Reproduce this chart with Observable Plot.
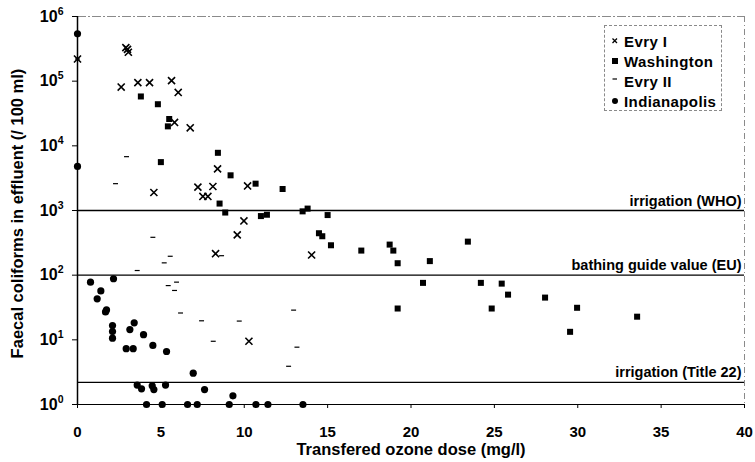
<!DOCTYPE html>
<html>
<head>
<meta charset="utf-8">
<script src="https://cdn.jsdelivr.net/npm/d3@7"></script>
<script src="https://cdn.jsdelivr.net/npm/@observablehq/plot@0.6"></script>
<style>
  html, body { margin: 0; padding: 0; background: #fff; }
  #wrap { position: relative; width: 755px; height: 462px; font-family: "Liberation Sans", Arial, sans-serif; }
  #legend { position: absolute; left: 604px; top: 25px; width: 118px; height: 86px;
            border: 1px dashed #8a8a8a; box-sizing: border-box; background: #fff; }
  .li { position: absolute; left: 0; font-weight: bold; font-size: 15px; letter-spacing: 0.4px; color: #000; line-height: 16px; white-space: nowrap; }
  .li svg { position: absolute; left: 6px; top: 3px; }
  .li span { position: absolute; left: 19px; top: 0; }
</style>
</head>
<body>
<div id="wrap"></div>
<script>
// ---- data ----
const seriesNames = ["Evry I", "Washington", "Evry II", "Indianapolis"];

const evry1X = [0, 2.9, 3.05, 3.0, 2.62, 3.62, 4.32, 5.64, 6.04, 5.82, 6.76, 4.58, 8.40, 7.22, 7.52, 7.82, 8.12, 10.2, 9.98, 9.58, 8.28, 14.04, 10.28];
const evry1Y = [2.2e5, 3.3e5, 2.8e5, 3.1e5, 8.1e4, 9.5e4, 9.5e4, 1.02e5, 6.7e4, 2.3e4, 1.9e4, 1.9e3, 4.4e3, 2.3e3, 1.65e3, 1.65e3, 2.35e3, 2.4e3, 690, 420, 215, 205, 9.5];

const washX = [3.80, 4.82, 5.50, 5.42, 5.0, 8.42, 9.18, 8.52, 8.86, 10.68, 12.3, 11.0, 11.36, 13.5, 13.8, 15.0, 14.48, 14.68, 15.2, 17.02, 18.72, 18.94, 19.2, 21.13, 23.41, 19.2, 20.72, 24.19, 24.84, 25.44, 25.82, 28.04, 29.96, 29.54, 33.56];
const washY = [5.8e4, 4.4e4, 2.6e4, 2.0e4, 5.6e3, 7.8e3, 3.5e3, 1.28e3, 930, 2.6e3, 2.15e3, 820, 860, 970, 1.07e3, 850, 445, 400, 290, 240, 297, 240, 153, 165, 330, 30.5, 76, 76, 30.5, 74, 50, 45, 31.3, 13.3, 22.8];

const evry2X = [0, 2.94, 2.28, 4.52, 3.58, 5.20, 5.56, 5.44, 5.94, 5.82, 6.18, 7.44, 8.14, 9.70, 8.64, 12.96, 13.16, 12.66];
const evry2Y = [2.2e5, 6.8e3, 2.6e3, 385, 118, 155, 196, 69, 78, 58, 26, 19.7, 9.5, 19.5, 200, 28.8, 7.7, 3.9];

const indyX = [0, 0, 0.78, 1.18, 1.40, 1.68, 1.74, 2.16, 2.10, 2.10, 2.10, 3.40, 3.14, 3.96, 2.92, 3.34, 4.52, 5.34, 6.94, 3.58, 3.84, 4.48, 4.58, 5.28, 7.62, 9.32, 4.14, 5.08, 6.6, 7.18, 9.1, 10.7, 11.42, 13.52];
const indyY = [5.4e5, 4.8e3, 78, 43, 57, 27, 29, 88, 16.6, 13.4, 10.6, 18.3, 14.4, 12.0, 7.3, 7.3, 8.2, 6.6, 3.05, 2.0, 1.75, 1.95, 1.7, 2.0, 1.7, 1.36, 1, 1, 1, 1, 1, 1, 1, 1];

const thresholdValues = [1000, 100, 2.2];
const thresholdLabels = ["irrigation (WHO)", "bathing guide value (EU)", "irrigation (Title 22)"];

const xTicks = [0, 5, 10, 15, 20, 25, 30, 35, 40];
const yTicks = [1, 10, 100, 1000, 1e4, 1e5, 1e6];
const xDomain = [0, 40];
const yDomain = [1, 1e6];
const xTitle = "Transfered ozone dose (mg/l)";
const yTitle = "Faecal coliforms in effluent (/ 100 ml)";

// ---- build tables ----
const toRows = (xs, ys) => xs.map((x, i) => ({x, y: ys[i]}));
const evry1 = toRows(evry1X, evry1Y);
const wash = toRows(washX, washY);
const evry2 = toRows(evry2X, evry2Y);
const indy = toRows(indyX, indyY);
const thresholds = thresholdValues.map((v, i) => ({v, label: thresholdLabels[i]}));

const dash = { draw(ctx, size) { const r = Math.sqrt(size) / 2; ctx.moveTo(-r, 0); ctx.lineTo(r, 0); } };

const font = '"Liberation Sans", Arial, sans-serif';

const chart = Plot.plot({
  width: 755,
  height: 462,
  marginLeft: 77,
  marginRight: 11,
  marginTop: 16,
  marginBottom: 58,
  style: { fontFamily: font, fontWeight: "bold", fontSize: "15px", color: "#000", background: "#fff", overflow: "visible" },
  x: { domain: xDomain, type: "linear" },
  y: { domain: yDomain, type: "log" },
  marks: [
    Plot.ruleY([yDomain[1]], { stroke: "#8a8a8a", strokeWidth: 1, strokeDasharray: "9,2,2,2" }),
    Plot.ruleX([xDomain[1]], { stroke: "#8a8a8a", strokeWidth: 1, strokeDasharray: "6,3,1,3" }),
    Plot.ruleY(thresholds, { y: "v", stroke: "#000", strokeWidth: 1.4 }),
    Plot.ruleY([yDomain[0]], { stroke: "#000", strokeWidth: 1.2 }),
    Plot.ruleX([xDomain[0]], { stroke: "#000", strokeWidth: 1.5 }),
    Plot.axisX({ ticks: xTicks, tickSize: 4, tickPadding: 18, fontSize: 15, fontWeight: "bold", label: null, tickFormat: d => String(d) }),
    Plot.axisY({ ticks: yTicks, tickSize: 5, tickPadding: 9, fontSize: 16, fontWeight: "bold", label: null,
                 tickFormat: d => "10^" + Math.round(Math.log10(d)) }),
    Plot.text(thresholds, { y: "v", text: "label", frameAnchor: "right", textAnchor: "end", lineAnchor: "bottom",
                            dx: -3, dy: -5, fontSize: 14.5, fontWeight: "bold", fill: "#000" }),
    Plot.text([xTitle], { text: d => d, frameAnchor: "bottom", dy: 50, fontSize: 16.5, fontWeight: "bold", fill: "#000" }),
    Plot.text([yTitle], { text: d => d, frameAnchor: "left", textAnchor: "middle", rotate: -90, dx: -60, dy: 3, fontSize: 16.5, fontWeight: "bold", fill: "#000" }),
    Plot.dot(evry2, { x: "x", y: "y", symbol: dash, r: 2.8, fill: "none", stroke: "#000", strokeWidth: 1.2 }),
    Plot.dot(evry1, { x: "x", y: "y", symbol: "times", r: 3.3, fill: "none", stroke: "#000", strokeWidth: 1.6 }),
    Plot.dot(wash, { x: "x", y: "y", symbol: "square", r: 3.4, fill: "#000", stroke: "none" }),
    Plot.dot(indy, { x: "x", y: "y", symbol: "circle", r: 3.6, fill: "#000", stroke: "none" })
  ]
});

// superscript exponents on y tick labels
d3.select(chart).selectAll('g[aria-label="y-axis tick label"] text').each(function () {
  const t = this.textContent;
  if (t.includes("^")) {
    const [b, e] = t.split("^");
    this.textContent = b;
    d3.select(this).append("tspan").attr("dy", "-0.65em").attr("font-size", "10.5px").text(e);
  }
});

const wrap = document.getElementById("wrap");
wrap.appendChild(chart);

// legend overlay inside the plot area
const legend = document.createElement("div");
legend.id = "legend";
const icons = [
  '<svg width="8" height="8"><path d="M1.5,1.5L6,6M6,1.5L1.5,6" stroke="#000" stroke-width="1.3"/></svg>',
  '<svg width="8" height="8"><rect x="1" y="1" width="6" height="6" fill="#000"/></svg>',
  '<svg width="8" height="8"><path d="M1.5,2H6" stroke="#000" stroke-width="1.2"/></svg>',
  '<svg width="8" height="8"><circle cx="4" cy="4" r="3" fill="#000"/></svg>'
];
seriesNames.forEach((name, i) => {
  const row = document.createElement("div");
  row.className = "li";
  row.style.top = (8 + i * 20) + "px";
  row.innerHTML = icons[i] + "<span>" + name + "</span>";
  legend.appendChild(row);
});
wrap.appendChild(legend);
</script>
</body>
</html>
